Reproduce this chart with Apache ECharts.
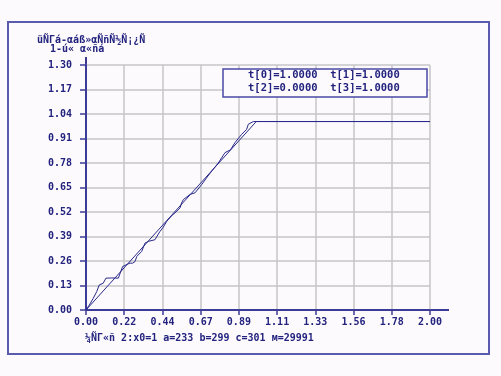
<!DOCTYPE html>
<html>
<head>
<meta charset="utf-8">
<script src="https://cdn.jsdelivr.net/npm/echarts@6/dist/echarts.min.js"></script>
<style>
html, body { margin: 0; padding: 0; background: #fcfafc; }
#main { width: 501px; height: 376px; }
</style>
</head>
<body>
<div id="main"></div>
<script>
var titleLines = ['üÑΓá-αáß»αÑñÑ½Ñ¡¿Ñ', '1-ú« α«ñá'];
var noteText = '¼ÑΓ«ñ 2:x0=1 a=233 b=299 c=301 м=29991';
var paramLines = ['t[0]=1.0000  t[1]=1.0000', 't[2]=0.0000  t[3]=1.0000'];

var xTickLabels = ['0.00', '0.22', '0.44', '0.67', '0.89', '1.11', '1.33', '1.56', '1.78', '2.00'];
var yTickLabels = ['0.00', '0.13', '0.26', '0.39', '0.52', '0.65', '0.78', '0.91', '1.04', '1.17', '1.30'];

// theoretical distribution function
var theoryX = [0, 0.99, 2.0];
var theoryY = [0, 1.0, 1.0];

// empirical distribution function
var empX = [0, 0.023, 0.042, 0.062, 0.077, 0.100, 0.116, 0.150, 0.188, 0.213, 0.256, 0.270, 0.285, 0.295,
    0.324, 0.343, 0.362, 0.401, 0.430, 0.450, 0.469, 0.498, 0.517, 0.547, 0.556, 0.566, 0.605, 0.634,
    0.673, 0.700, 0.731, 0.769, 0.808, 0.840, 0.866, 0.905, 0.934, 0.944, 0.973, 0.990, 2.0];
var empY = [0, 0.032, 0.062, 0.097, 0.133, 0.142, 0.169, 0.170, 0.169, 0.231, 0.249, 0.248, 0.257, 0.284,
    0.311, 0.355, 0.364, 0.373, 0.417, 0.440, 0.470, 0.500, 0.515, 0.542, 0.568, 0.586, 0.613, 0.622,
    0.666, 0.700, 0.737, 0.780, 0.835, 0.850, 0.888, 0.932, 0.959, 0.986, 1.0, 1.0, 1.0];

function pairs(xs, ys) {
    return xs.map(function (x, i) { return [x, ys[i]]; });
}

var ink = '#23237f';
var axisInk = '#3c3c98';
var font = 'DejaVu Sans Mono';

var gridLeft = 86, gridTop = 65, gridRight = 71, gridBottom = 66;
var W = 501, H = 376;

var myChart = echarts.init(document.getElementById('main'));

myChart.setOption({
    backgroundColor: '#fcfafc',
    animation: false,
    grid: { left: gridLeft, top: gridTop, right: gridRight, bottom: gridBottom },
    xAxis: {
        type: 'value',
        min: 0,
        max: 2,
        interval: 2 / 9,
        axisLine: { show: true, lineStyle: { color: axisInk, width: 2 } },
        axisTick: { show: true, length: 5, lineStyle: { color: axisInk, width: 1.5 } },
        axisLabel: {
            margin: 7,
            color: ink,
            fontFamily: font,
            fontWeight: 'bold',
            fontSize: 10,
            formatter: function (v, i) { return xTickLabels[i]; }
        },
        splitLine: { show: true, lineStyle: { color: '#c6c6ca', width: 1.5 } }
    },
    yAxis: {
        type: 'value',
        min: 0,
        max: 1.3,
        interval: 0.13,
        axisLine: { show: true, lineStyle: { color: axisInk, width: 2 } },
        axisTick: { show: true, length: 6, lineStyle: { color: axisInk, width: 1.5 } },
        axisLabel: {
            margin: 14,
            color: ink,
            fontFamily: font,
            fontWeight: 'bold',
            fontSize: 10,
            formatter: function (v, i) { return yTickLabels[i]; }
        },
        splitLine: { show: true, lineStyle: { color: '#c6c6ca', width: 1.5 } }
    },
    series: [
        {
            type: 'line',
            data: pairs(theoryX, theoryY),
            showSymbol: false,
            lineStyle: { color: '#2a2a8a', width: 1 }
        },
        {
            type: 'line',
            data: pairs(empX, empY),
            showSymbol: false,
            lineStyle: { color: '#2a2a8a', width: 1 }
        }
    ],
    graphic: [
        // outer frame
        { type: 'rect', shape: { x: 8, y: 22, width: 481, height: 332 },
          style: { fill: null, stroke: '#5a5aae', lineWidth: 2 }, silent: true },
        // axis extensions
        { type: 'line', shape: { x1: W - gridRight, y1: H - gridBottom, x2: 449, y2: H - gridBottom },
          style: { stroke: axisInk, lineWidth: 2 } },
        { type: 'line', shape: { x1: gridLeft, y1: gridTop, x2: gridLeft, y2: 57 },
          style: { stroke: axisInk, lineWidth: 2 } },
        // titles
        { type: 'text', left: 37, top: 35,
          style: { text: titleLines[0], fill: ink, font: 'bold 10px ' + font } },
        { type: 'text', left: 50, top: 44,
          style: { text: titleLines[1], fill: ink, font: 'bold 10px ' + font } },
        // parameter box
        { type: 'rect', shape: { x: 223, y: 69, width: 204, height: 28 },
          style: { fill: '#fcfafc', stroke: '#4a4aa2', lineWidth: 1.5 }, z: 10 },
        { type: 'text', left: 248, top: 70, z: 11,
          style: { text: paramLines[0], fill: ink, font: 'bold 10.5px ' + font } },
        { type: 'text', left: 248, top: 83, z: 11,
          style: { text: paramLines[1], fill: ink, font: 'bold 10.5px ' + font } },
        // note under the axis
        { type: 'text', left: 85, top: 333,
          style: { text: noteText, fill: ink, font: 'bold 10px ' + font } }
    ]
});
</script>
</body>
</html>
